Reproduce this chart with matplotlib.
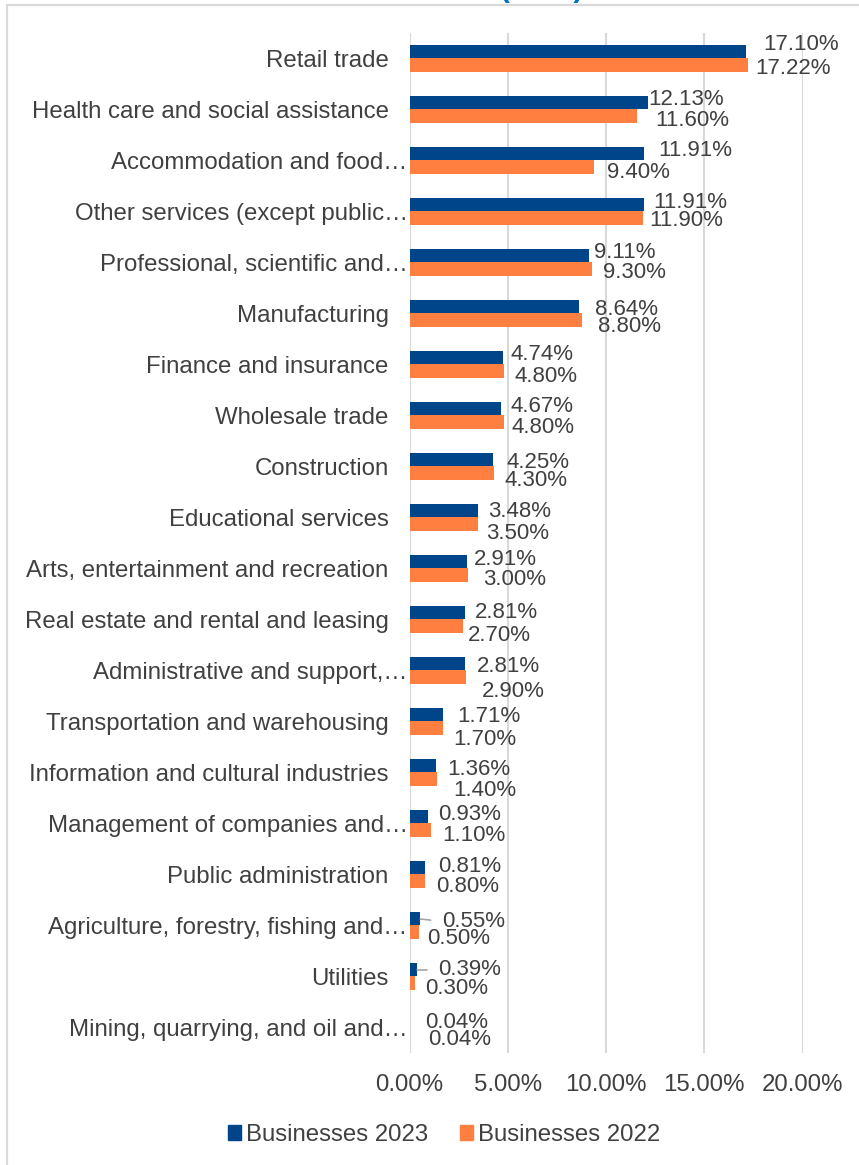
import matplotlib.pyplot as plt
from matplotlib.patches import Rectangle, Patch
from matplotlib.transforms import ScaledTranslation

# Share of businesses by industry, 2023 vs 2022 (percent)
industries = [
    'Retail trade',
    'Health care and social assistance',
    'Accommodation and food\u2026',
    'Other services (except public\u2026',
    'Professional, scientific and\u2026',
    'Manufacturing',
    'Finance and insurance',
    'Wholesale trade',
    'Construction',
    'Educational services',
    'Arts, entertainment and recreation',
    'Real estate and rental and leasing',
    'Administrative and support,\u2026',
    'Transportation and warehousing',
    'Information and cultural industries',
    'Management of companies and\u2026',
    'Public administration',
    'Agriculture, forestry, fishing and\u2026',
    'Utilities',
    'Mining, quarrying, and oil and\u2026',
]
share_2023 = [17.10, 12.13, 11.91, 11.91, 9.11, 8.64, 4.74, 4.67, 4.25, 3.48,
              2.91, 2.81, 2.81, 1.71, 1.36, 0.93, 0.81, 0.55, 0.39, 0.04]
share_2022 = [17.22, 11.60, 9.40, 11.90, 9.30, 8.80, 4.80, 4.80, 4.30, 3.50,
              3.00, 2.70, 2.90, 1.70, 1.40, 1.10, 0.80, 0.50, 0.30, 0.04]
x_ticks = [0, 5, 10, 15, 20]
title_tail = '(2023)'

# data label nudges (pixels right / pixels down from the bar)
nudge_2023 = [(17.5, -13.5), (0, -9.5), (14.5, -10), (9.5, -9), (5.5, -9.5),
              (16, -3.5), (8, -9.5), (9, -9), (13, -4), (10, -6),
              (7, -8.5), (10, -6.5), (12.5, -4), (13.7, -4.5), (11, -2.5),
              (10.5, -8.5), (13, -8), (21.4, -4), (21, -6.5), (14.7, -4.5)]
nudge_2022 = [(7, 9.5), (17.5, 11), (13, 12), (6, 9), (11, 9.5),
              (16, 12.5), (11, 12), (8, 12), (11, 13.5), (8, 15.5),
              (15, 10.5), (5.5, 15.5), (15, 21), (10.4, 17.5), (16, 17.5),
              (11.6, 11.5), (11, 12), (7.4, 13), (9.6, 12), (17.4, 11.5)]
leader_lines = [17, 18]

BLUE = '#00458A'
ORANGE = '#FF7F41'
TEXT = '#404040'
GRID = '#D9D9D9'
FS = 17.3      # axis and legend text
FS_LBL = 16    # data labels
PX = 72 / 100  # points per pixel at dpi 100

plt.rcParams['font.family'] = ['Liberation Sans', 'DejaVu Sans']

fig = plt.figure(figsize=(8.59, 11.65), dpi=100)
W, H = 859, 1165
ax = fig.add_axes([409.5 / W, 1 - 1053 / H, 393 / W, 1020 / H])

pos = list(range(len(industries)))
bar_h = 0.255
ax.barh([p - bar_h / 2 for p in pos], share_2023, height=bar_h, color=BLUE,
        label='Businesses 2023', zorder=3)
ax.barh([p + bar_h / 2 for p in pos], share_2022, height=bar_h, color=ORANGE,
        label='Businesses 2022', zorder=3)

for i, p in enumerate(pos):
    dx, dy = nudge_2023[i]
    kw = {}
    if i in leader_lines:
        kw['arrowprops'] = dict(arrowstyle='-', color='#A6A6A6', lw=1.2,
                                shrinkA=6, shrinkB=0, relpos=(0, 0.5))
    ax.annotate(f'{share_2023[i]:.2f}%', xy=(share_2023[i], p - bar_h / 2),
                xytext=(dx * PX, -(dy + 6.4) * PX), textcoords='offset points',
                ha='left', va='center', fontsize=FS_LBL, color=TEXT, zorder=4, **kw)
    dx, dy = nudge_2022[i]
    ax.annotate(f'{share_2022[i]:.2f}%', xy=(share_2022[i], p + bar_h / 2),
                xytext=(dx * PX, -(dy - 6.4) * PX), textcoords='offset points',
                ha='left', va='center', fontsize=FS_LBL, color=TEXT, zorder=4)

ax.set_xlim(0, 20)
ax.set_ylim(len(industries) - 0.5, -0.5)
ax.set_xticks(x_ticks)
ax.set_xticklabels([f'{t:.2f}%' for t in x_ticks])
ax.set_yticks(pos)
ax.set_yticklabels(industries)
ax.tick_params(axis='y', length=0, pad=15, labelsize=FS, labelcolor=TEXT)
ax.tick_params(axis='x', length=0, pad=15, labelsize=FS, labelcolor=TEXT)
ax.grid(axis='x', color=GRID, lw=1.5, zorder=0)
ax.set_axisbelow(True)
for s in ax.spines.values():
    s.set_visible(False)

# shortened category names run right up to the axis
shift = ScaledTranslation(19 / 100, 0, fig.dpi_scale_trans)
for lbl in ax.get_yticklabels():
    if lbl.get_text().endswith('\u2026'):
        lbl.set_transform(lbl.get_transform() + shift)

handles = [Patch(color=BLUE, label='Businesses 2023'),
           Patch(color=ORANGE, label='Businesses 2022')]
fig.legend(handles=handles, loc='center', bbox_to_anchor=(444 / W, 1 - 1135 / H),
           ncol=2, frameon=False, fontsize=FS, handlelength=0.55, handleheight=0.55,
           handletextpad=0.2, columnspacing=1.3, labelcolor=TEXT)

# chart frame and the clipped title above it
fig.patches.append(Rectangle((7 / W, -0.05), 1.1, 1 - 5 / H + 0.05,
                             transform=fig.transFigure, fill=False,
                             edgecolor=GRID, lw=1.6))
fig.text(542 / W, 1 + 3 / H, title_tail, ha='center', va='baseline',
         fontsize=21, fontweight='bold', color='#0070C0')

fig.savefig('out.png', dpi=100)
